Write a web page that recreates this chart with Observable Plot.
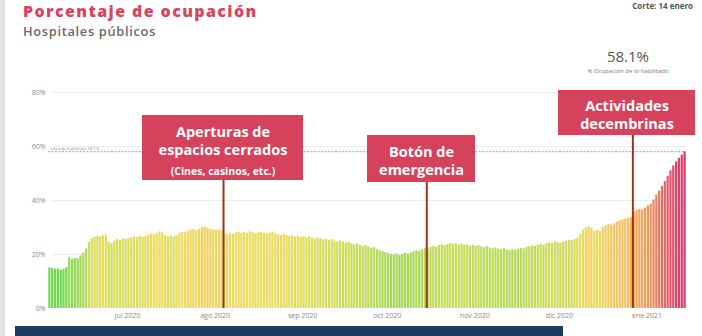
<!DOCTYPE html>
<html>
<head>
<meta charset="utf-8">
<script src="https://cdn.jsdelivr.net/npm/d3@7"></script>
<script src="https://cdn.jsdelivr.net/npm/@observablehq/plot@0.6"></script>
<style>
  html, body { margin: 0; padding: 0; background: #fff; }
  #wrap { position: relative; width: 702px; height: 336px; overflow: hidden; background: #fff; font-family: "Open Sans", sans-serif; }
  #strip { position: absolute; left: 0; top: 0; width: 5px; height: 336px; background: #e2e2e2; }
  #title { position: absolute; left: 23px; top: 0px; line-height: normal; font-size: 16px; font-weight: 800; color: #d6455f; letter-spacing: 1.4px; white-space: nowrap; }
  #subtitle { position: absolute; left: 23px; top: 22px; line-height: normal; font-size: 12.8px; font-weight: 600; color: #6a6a6a; letter-spacing: 0.7px; white-space: nowrap; }
  #corte { position: absolute; right: 9px; top: 2px; line-height: 1; font-size: 8px; font-weight: 700; color: #555; white-space: nowrap; }
  #kpi { position: absolute; left: 578px; width: 100px; top: 46px; text-align: center; font-size: 15px; color: #555; }
  #kpiLabel { position: absolute; left: 568px; width: 120px; top: 67px; text-align: center; font-size: 6px; color: #777; }
  #chart { position: absolute; left: 0; top: 0; }
  #navy { position: absolute; left: 15px; top: 326px; width: 548px; height: 10px; background: #1e3a5f; }
</style>
</head>
<body>
<div id="wrap">
  <div id="chart"></div>
  <div id="strip"></div>
  <div id="title">Porcentaje de ocupación</div>
  <div id="subtitle">Hospitales públicos</div>
  <div id="corte">Corte: 14 enero</div>
  <div id="kpi">58.1%</div>
  <div id="kpiLabel">% Ocupación de lo habilitado</div>
  <div id="navy"></div>
</div>
<script>
// ---- Data (daily % occupancy) ----
const inicio = "2020-06-03";
const junio = [15, 14.8, 14.5, 14.6, 14.2, 14.5, 15.2, 18.8, 18.2, 18.6, 18.4, 19.5, 20.5, 22, 24.5, 25.8,
  26.3, 26.8, 26.5, 27, 27.2, 24.5, 24, 24.8, 25.5, 25.2, 25.8, 25.6];
const julio = [25.8, 26.2, 26.5, 26.3, 26.8, 26.4, 26.7, 27, 27.5, 27.3, 27.8, 28.4, 28, 26.9, 26.5, 26.8,
  26.4, 26.9, 27.8, 28.2, 28, 28.6, 28.9, 29.2, 28.8, 29.4, 30, 30.2, 29.8, 29.3, 29];
const agosto = [29, 29.2, 28.8, 27.6, 27.3, 27.7, 27.4, 28, 28.3, 27.9, 28.2, 27.8, 28.4, 28.1, 27.7, 28,
  28.3, 27.9, 27.6, 27.9, 28.1, 27.7, 27.3, 27, 27.4, 27.1, 26.7, 27, 26.5, 26.8, 26.4];
const septiembre = [26.6, 26.2, 26.5, 26, 25.7, 26.1, 25.8, 25.4, 25.6, 25.2, 25.5, 25, 24.7, 25.1, 24.6,
  24.2, 24.5, 24, 23.6, 23.9, 23.4, 23, 23.3, 22.7, 22.2, 22.5, 21.8, 21.4, 21.1, 20.7];
const octubre = [20.3, 20, 19.8, 20.2, 19.6, 20, 20.4, 20.1, 20.6, 21, 21.4, 21.2, 21.8, 22.2, 22, 22.6,
  23, 22.7, 23.3, 23.6, 23.2, 23.8, 24.1, 23.7, 24, 23.5, 23.9, 23.4, 23.6, 23.1, 23.4];
const noviembre = [23, 23.3, 22.8, 22.5, 22.9, 22.4, 22.1, 22.5, 22, 21.8, 22.2, 21.7, 21.5, 21.9, 21.6,
  22, 22.3, 22.1, 22.6, 22.9, 23.2, 23, 23.5, 23.8, 23.4, 24, 24.3, 24.1, 24.6, 24.4];
const diciembre = [24.2, 24.6, 24.9, 25.3, 25.1, 25.6, 26, 27.5, 29, 29.8, 30.2, 29.7, 28.6, 28.9, 28.5,
  30, 30.6, 31.2, 30.9, 31.4, 32, 32.5, 32.8, 33.2, 33.4, 33.6, 35.8, 36.4, 36.8, 36.5, 37.2];
const enero = [38, 38.6, 40.2, 42, 43.5, 45.2, 47, 49, 51, 52.8, 54.3, 55.6, 56.8, 58.1];

const habilitado = 58.1;
const habilitadoLabel = "Línea de habilitado: 58.1%";
const meses = ["ene", "feb", "mar", "abr", "may", "jun", "jul", "ago", "sep", "oct", "nov", "dic"];
const yTicks = [0, 20, 40, 60, 80];

const eventoFechas = ["2020-08-04", "2020-10-15", "2020-12-27"];
const eventoTextos = [
  ["Aperturas de", "espacios cerrados", "(Cines, casinos, etc.)"],
  ["Botón de", "emergencia"],
  ["Actividades", "decembrinas"]
];

// ---- Build table ----
const start = new Date(inicio + "T00:00:00Z");
const valores = [].concat(junio, julio, agosto, septiembre, octubre, noviembre, diciembre, enero);
const data = valores.map((v, i) => ({ date: d3.utcDay.offset(start, i), value: v }));
const end = d3.utcDay.offset(start, valores.length);
const monthTicks = d3.utcMonth.range(d3.utcMonth.ceil(start), end);

// ---- Layout ----
const W = 702, H = 326, mL = 48, mR = 16, mT = 92, mB = 18;
const xs = d3.scaleUtc().domain([start, end]).range([mL, W - mR]);
const ys = d3.scaleLinear().domain([0, 80]).range([H - mB, mT]);
// annotation boxes in pixels: centerX, width, top, bottom, text line centers & sizes
const cajas = [
  { cx: 222.5, w: 161, top: 115, bottom: 180, lines: [132, 150, 171], sizes: [14.5, 14.5, 10.5] },
  { cx: 421, w: 108, top: 135, bottom: 182, lines: [152, 170], sizes: [14.5, 14.5] },
  { cx: 626.5, w: 137, top: 90, bottom: 135, lines: [106, 124], sizes: [14.5, 14.5] }
];
const eventos = eventoFechas.map((f, i) => ({ fecha: new Date(f + "T00:00:00Z"), textos: eventoTextos[i], ...cajas[i] }));
const boxes = eventos.map(e => ({
  x1: xs.invert(e.cx - e.w / 2), x2: xs.invert(e.cx + e.w / 2),
  y1: ys.invert(e.bottom), y2: ys.invert(e.top)
}));
const textRows = eventos.flatMap(e => e.textos.map((t, j) => ({
  x: xs.invert(e.cx), y: ys.invert(e.lines[j]), text: t, size: e.sizes[j]
})));

const chart = Plot.plot({
  width: W, height: H,
  marginLeft: mL, marginRight: mR, marginTop: mT, marginBottom: mB,
  style: { fontFamily: "Open Sans, sans-serif", fontSize: "7px", color: "#8a8a8a", background: "transparent", overflow: "visible" },
  x: { type: "utc", domain: [start, end], ticks: monthTicks, tickFormat: d => `${meses[d.getUTCMonth()]} ${d.getUTCFullYear()}`, tickSize: 0, tickPadding: 5, label: null },
  y: { domain: [0, 80], ticks: yTicks, tickFormat: d => d + "%", tickSize: 0, tickPadding: 3, label: null },
  color: {
    type: "linear",
    domain: [14, 20, 24, 28, 33, 40, 50, 58],
    range: ["#6ad84a", "#a2d856", "#cadc5a", "#ecdc5e", "#f3c060", "#eb8a5c", "#e0566a", "#d83a66"]
  },
  marks: [
    Plot.ruleY([20, 40, 60, 80], { stroke: "#ececec", strokeWidth: 1, x1: xs.invert(53), x2: end }),
    Plot.rectY(data, { x1: "date", x2: d => d3.utcDay.offset(d.date, 1), y: "value", fill: "value", insetLeft: 0.3, insetRight: 0.3 }),
    Plot.ruleY([habilitado], { stroke: "#86c2d8", strokeWidth: 1.2, strokeDasharray: "2,1.5" }),
    Plot.text([habilitadoLabel], { x: start, y: habilitado, text: d => d, dx: 2, dy: -3, textAnchor: "start", fontSize: 4, fill: "#888" }),
    Plot.ruleX(eventos, { x: "fecha", y1: 0, y2: e => ys.invert(e.bottom), stroke: "#a3321c", strokeWidth: 2 }),
    Plot.rect(boxes, { x1: "x1", x2: "x2", y1: "y1", y2: "y2", fill: "#d6415c" }),
    Plot.text(textRows, { x: "x", y: "y", text: "text", fontSize: "size", fontWeight: 700, fill: "#fff", lineAnchor: "middle", textAnchor: "middle" })
  ]
});
document.getElementById("chart").appendChild(chart);
</script>
</body>
</html>
